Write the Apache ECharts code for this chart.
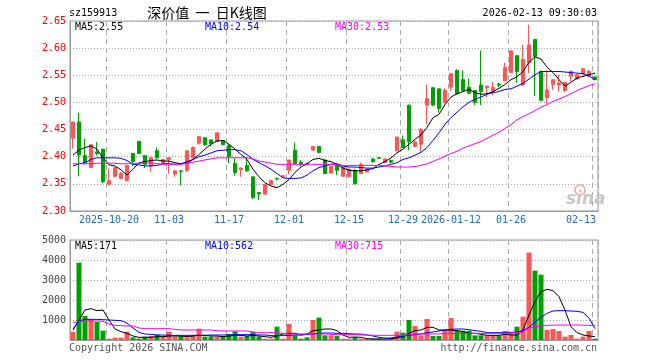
<!DOCTYPE html>
<html><head><meta charset="utf-8">
<script src="https://cdn.jsdelivr.net/npm/echarts@6/dist/echarts.min.js"></script>
<style>html,body{margin:0;padding:0;background:#fff}#c{width:660px;height:360px}</style>
</head><body><div id="c"></div>
<script>
const dates = [
'2025-10-10','2025-10-13','2025-10-14','2025-10-15','2025-10-16','2025-10-17',
'2025-10-20','2025-10-21','2025-10-22','2025-10-23','2025-10-24',
'2025-10-27','2025-10-28','2025-10-29','2025-10-30','2025-10-31',
'2025-11-03','2025-11-04','2025-11-05','2025-11-06','2025-11-07',
'2025-11-10','2025-11-11','2025-11-12','2025-11-13','2025-11-14',
'2025-11-17','2025-11-18','2025-11-19','2025-11-20','2025-11-21',
'2025-11-24','2025-11-25','2025-11-26','2025-11-27','2025-11-28',
'2025-12-01','2025-12-02','2025-12-03','2025-12-04','2025-12-05',
'2025-12-08','2025-12-09','2025-12-10','2025-12-11','2025-12-12',
'2025-12-15','2025-12-16','2025-12-17','2025-12-18','2025-12-19',
'2025-12-22','2025-12-23','2025-12-24','2025-12-25',
'2025-12-29','2025-12-30','2025-12-31',
'2026-01-05','2026-01-06','2026-01-07','2026-01-08','2026-01-09',
'2026-01-12','2026-01-13','2026-01-14','2026-01-15','2026-01-16',
'2026-01-19','2026-01-20','2026-01-21','2026-01-22','2026-01-23',
'2026-01-26','2026-01-27','2026-01-28','2026-01-29','2026-01-30',
'2026-02-02','2026-02-03','2026-02-04','2026-02-05','2026-02-06',
'2026-02-09','2026-02-10','2026-02-11','2026-02-12','2026-02-13'];

const openP = [2.434,2.464,2.402,2.380,2.409,2.414,2.349,2.364,2.360,2.356, 2.406,2.428,2.402,2.383,2.411,2.388,2.395,2.368,2.374,2.375, 2.398,2.425,2.435,2.431,2.428,2.430,2.421,2.388,2.376,2.384, 2.363,2.334,2.331,2.349,2.360,2.363,2.375,2.412,2.390,2.387, 2.412,2.419,2.394,2.370,2.385,2.364,2.363,2.375,2.369,2.372, 2.396,2.398,2.389,2.393,2.411,2.431,2.495,2.419,2.423,2.495, 2.527,2.525,2.500,2.528,2.559,2.542,2.528,2.522,2.532,2.527, 2.521,2.534,2.540,2.555,2.586,2.533,2.573,2.616,2.557,2.509, 2.533,2.532,2.522,2.548,2.543,2.553,2.548,2.547];
const closeP = [2.464,2.403,2.388,2.422,2.406,2.354,2.356,2.380,2.369,2.384, 2.391,2.406,2.386,2.398,2.398,2.395,2.398,2.374,2.373,2.411, 2.417,2.437,2.422,2.424,2.444,2.422,2.400,2.371,2.379,2.374, 2.325,2.332,2.349,2.356,2.359,2.365,2.394,2.387,2.386,2.386, 2.419,2.408,2.369,2.382,2.375,2.381,2.377,2.350,2.386,2.376, 2.391,2.397,2.396,2.390,2.436,2.417,2.428,2.427,2.450,2.507, 2.495,2.489,2.522,2.553,2.516,2.522,2.517,2.500,2.520,2.530, 2.528,2.532,2.564,2.595,2.557,2.579,2.606,2.585,2.504,2.523, 2.542,2.536,2.537,2.557,2.551,2.562,2.557,2.542];
const lowP = [2.415,2.364,2.386,2.379,2.402,2.351,2.347,2.363,2.358,2.354, 2.383,2.405,2.379,2.372,2.396,2.387,2.369,2.363,2.347,2.372, 2.397,2.422,2.420,2.419,2.428,2.421,2.388,2.365,2.363,2.372, 2.322,2.320,2.330,2.348,2.356,2.362,2.368,2.386,2.383,2.384, 2.411,2.406,2.368,2.369,2.366,2.363,2.362,2.349,2.368,2.371, 2.389,2.396,2.388,2.388,2.409,2.416,2.412,2.417,2.409,2.460, 2.493,2.481,2.498,2.521,2.514,2.520,2.516,2.495,2.495,2.509, 2.514,2.528,2.539,2.554,2.536,2.530,2.554,2.512,2.502,2.496, 2.523,2.520,2.519,2.539,2.542,2.551,2.546,2.541];
const highP = [2.465,2.481,2.433,2.422,2.427,2.414,2.378,2.380,2.372,2.384, 2.406,2.428,2.402,2.400,2.417,2.396,2.399,2.374,2.374,2.411, 2.419,2.437,2.435,2.431,2.445,2.430,2.423,2.397,2.380,2.398, 2.363,2.334,2.349,2.357,2.362,2.366,2.394,2.426,2.394,2.389, 2.419,2.419,2.396,2.383,2.386,2.383,2.379,2.377,2.389,2.377, 2.397,2.399,2.397,2.395,2.437,2.439,2.496,2.430,2.453,2.533, 2.528,2.525,2.526,2.554,2.561,2.559,2.544,2.523,2.596,2.531, 2.538,2.536,2.573,2.596,2.587,2.606,2.643,2.617,2.559,2.559, 2.543,2.551,2.538,2.559,2.553,2.563,2.560,2.548];

const volume = [417,3867,1200,1033,900,467,67,117,117,417, 133,67,167,200,267,200,417,167,200,133, 233,567,167,167,167,200,300,433,167,200, 400,167,67,67,667,67,800,233,67,133, 1000,1117,233,233,200,67,67,133,67,67, 67,67,67,67,417,367,1000,700,233,1050, 200,200,500,1100,467,467,467,233,233,233, 233,233,450,350,667,1167,4367,3467,3267,500, 550,450,167,250,67,167,450,67];

const ma5P = [2.403,2.412,2.417,2.420,2.414,2.398,2.385,2.383,2.376,2.366, 2.377,2.389,2.391,2.393,2.394,2.392,2.392,2.389,2.387,2.388, 2.395,2.404,2.414,2.423,2.429,2.430,2.423,2.414,2.404,2.395, 2.377,2.363,2.352,2.346,2.343,2.349,2.358,2.371,2.381,2.387, 2.395,2.397,2.393,2.391,2.386,2.379,2.375,2.374,2.374,2.376, 2.378,2.386,2.391,2.398,2.407,2.414,2.423,2.432,2.440,2.454, 2.472,2.478,2.496,2.510,2.516,2.520,2.524,2.518,2.515,2.516, 2.520,2.526,2.533,2.542,2.547,2.557,2.574,2.584,2.580,2.565, 2.555,2.542,2.530,2.537,2.545,2.548,2.551,2.554];
const ma10P = [2.383,2.387,2.389,2.395,2.398,2.398,2.398,2.398,2.397,2.393, 2.386,2.385,2.383,2.383,2.384,2.387,2.387,2.386,2.387,2.391, 2.395,2.400,2.403,2.407,2.411,2.412,2.413,2.413,2.411,2.404, 2.395,2.389,2.383,2.377,2.369,2.361,2.360,2.360,2.361,2.366, 2.374,2.380,2.383,2.386,2.387,2.383,2.381,2.381,2.380,2.379, 2.379,2.381,2.383,2.386,2.389,2.395,2.398,2.403,2.408,2.417, 2.430,2.444,2.460,2.472,2.482,2.492,2.500,2.506,2.510,2.515, 2.518,2.520,2.524,2.525,2.530,2.535,2.543,2.551,2.557,2.557, 2.557,2.557,2.556,2.555,2.554,2.553,2.549,2.542];
const ma30P = [2.387,2.387,2.387,2.387,2.388,2.388,2.388,2.388,2.387,2.387, 2.388,2.388,2.388,2.389,2.387,2.386,2.386,2.386,2.386,2.388, 2.390,2.392,2.394,2.396,2.398,2.398,2.398,2.398,2.398,2.398, 2.396,2.392,2.390,2.388,2.386,2.386,2.386,2.386,2.386,2.386, 2.386,2.386,2.386,2.386,2.385,2.384,2.384,2.384,2.384,2.384, 2.384,2.384,2.383,2.382,2.381,2.381,2.381,2.382,2.384,2.387, 2.3915,2.396,2.401,2.406,2.410,2.416,2.420,2.424,2.428,2.434, 2.440,2.445,2.452,2.459,2.468,2.474,2.479,2.485,2.4915,2.496, 2.502,2.506,2.511,2.516,2.522,2.5265,2.531,2.5345];

const ma5V = [500,1000,1500,1567,1467,1500,1000,550,417,333, 200,133,133,133,167,167,200,200,200,167, 200,233,233,200,200,167,200,233,233,200, 233,200,167,133,200,300,333,333,250,300, 467,500,550,550,467,250,133,150,133,67, 50,50,50,67,100,167,333,467,500,633, 633,500,500,500,467,417,333,333,283,233, 233,233,283,250,250,500,1250,1917,2417,2533, 2467,2167,1500,667,367,250,200,171];
const ma10V = [550,950,1033,1033,1033,1017,1000,983,967,850, 600,380,300,280,250,250,233,233,233,233, 233,233,233,250,250,250,250,267,267,267, 267,250,250,217,217,217,233,250,250,283, 300,333,350,350,333,333,317,300,300,250, 200,133,100,100,150,200,233,267,300,367, 400,450,500,533,550,550,517,467,433,367, 367,367,367,383,400,467,633,900,1133,1333, 1450,1467,1467,1450,1433,1383,1100,562];
const ma30V = [867,933,950,950,950,933,800,733,717,700, 700,600,567,567,567,567,567,533,500,500, 500,500,500,500,467,450,450,450,450,450, 400,367,367,367,367,333,300,300,300,300, 300,300,300,283,267,267,267,267,250,250, 233,233,233,233,233,233,267,300,300,300, 300,300,333,333,333,333,333,333,333,333, 333,333,333,350,367,400,600,667,700,733, 740,745,750,750,750,740,730,715];

const tickDates = ['2025-10-20','2025-11-03','2025-11-17','2025-12-01','2025-12-15','2025-12-29','2026-01-12','2026-01-26','2026-02-13'];
const tickLabels = ['2025-10-20','11-03','11-17','12-01','12-15','12-29','2026-01-12','01-26','02-13'];
const priceMin = 2.30, priceMax = 2.65, priceStep = 0.05;
const volMin = 0, volMax = 5000, volStep = 1000;

const RED = '#ff5555', GREEN = '#00a000';
const MONO = '"DejaVu Sans Mono", monospace';
const chart = echarts.init(document.getElementById('c'), null, {renderer: 'canvas'});
const kData = dates.map((d, i) => [openP[i], closeP[i], lowP[i], highP[i]]);
const isUp = i => closeP[i] >= openP[i];
const showTick = (idx, val) => tickDates.indexOf(val) >= 0;
const vSplit = {show: true, interval: showTick, lineStyle: {color: '#aaa', type: [5, 4], width: 1}};
const hSplit = {show: true, lineStyle: {color: '#aaa', type: [1, 2], width: 1}};
const lastIdx = dates.length - 1;

function txt(x, y, text, color, font, align) {
  return {type: 'text', x: x, y: y, silent: true, z: 100,
    style: {text: text, fill: color, font: font, align: align || 'left', verticalAlign: 'middle'}};
}

const option = {
  animation: false,
  backgroundColor: '#fff',
  grid: [
    {left: 70, top: 21, width: 528, height: 190, show: true, borderColor: '#999', borderWidth: 1},
    {left: 70, top: 240, width: 528, height: 100, show: true, borderColor: '#999', borderWidth: 1}
  ],
  xAxis: [
    {type: 'category', gridIndex: 0, data: dates, boundaryGap: true,
      axisLine: {lineStyle: {color: '#999'}}, axisTick: {show: false},
      axisLabel: {interval: showTick, margin: 4, color: '#1f6cb8', fontFamily: MONO, fontSize: 10,
        formatter: function (v) {
          const k = tickDates.indexOf(v);
          if (k < 0) return '';
          if (k === tickDates.length - 1) return '{r|' + tickLabels[k] + '}';
          return tickLabels[k];
        },
        rich: {r: {color: '#1f6cb8', fontFamily: MONO, fontSize: 10, padding: [0, 28, 0, 0]}}},
      splitLine: vSplit},
    {type: 'category', gridIndex: 1, data: dates, boundaryGap: true,
      axisLine: {lineStyle: {color: '#999'}}, axisTick: {show: false}, axisLabel: {show: false},
      splitLine: vSplit}
  ],
  yAxis: [
    {type: 'value', gridIndex: 0, min: priceMin, max: priceMax, interval: priceStep, scale: true,
      axisLine: {show: true, lineStyle: {color: '#999'}}, axisTick: {show: false},
      axisLabel: {color: '#f00', fontFamily: MONO, fontSize: 10, margin: 4, formatter: v => v.toFixed(2)},
      splitLine: hSplit},
    {type: 'value', gridIndex: 1, min: volMin, max: volMax, interval: volStep,
      axisLine: {show: true, lineStyle: {color: '#999'}}, axisTick: {show: false},
      axisLabel: {color: '#444', fontFamily: MONO, fontSize: 10, margin: 4, formatter: v => v === 0 ? '' : String(v)},
      splitLine: hSplit}
  ],
  series: [
    {type: 'candlestick', xAxisIndex: 0, yAxisIndex: 0, data: kData, barWidth: 4,
      itemStyle: {color: RED, color0: GREEN, borderColor: RED, borderColor0: GREEN, borderWidth: 1}},
    {type: 'line', xAxisIndex: 0, yAxisIndex: 0, data: ma5P, symbol: 'none', lineStyle: {color: '#000', width: 1}, silent: true},
    {type: 'line', xAxisIndex: 0, yAxisIndex: 0, data: ma10P, symbol: 'none', lineStyle: {color: '#0000ff', width: 1}, silent: true},
    {type: 'line', xAxisIndex: 0, yAxisIndex: 0, data: ma30P, symbol: 'none', lineStyle: {color: '#ff00ff', width: 1}, silent: true},
    {type: 'bar', xAxisIndex: 1, yAxisIndex: 1, barWidth: 5,
      data: volume.map((v, i) => ({value: v, itemStyle: {color: isUp(i) ? RED : GREEN}}))},
    {type: 'line', xAxisIndex: 1, yAxisIndex: 1, data: ma5V, symbol: 'none', lineStyle: {color: '#000', width: 1}, silent: true},
    {type: 'line', xAxisIndex: 1, yAxisIndex: 1, data: ma10V, symbol: 'none', lineStyle: {color: '#0000ff', width: 1}, silent: true},
    {type: 'line', xAxisIndex: 1, yAxisIndex: 1, data: ma30V, symbol: 'none', lineStyle: {color: '#ff00ff', width: 1}, silent: true}
  ],
  graphic: [
    txt(69, 13, 'sz159913', '#000', '10px ' + MONO),
    txt(207, 13, '深价值  一  日K线图', '#000', '14px "Noto Sans CJK SC"', 'center'),
    txt(597, 13, '2026-02-13 09:30:03', '#000', '10px ' + MONO, 'right'),
    txt(75, 27, 'MA5:' + ma5P[lastIdx].toFixed(2), '#000', '10px ' + MONO),
    txt(205, 27, 'MA10:' + ma10P[lastIdx].toFixed(2), '#0000ff', '10px ' + MONO),
    txt(335, 27, 'MA30:' + ma30P[lastIdx].toFixed(2), '#ff00ff', '10px ' + MONO),
    txt(75, 246, 'MA5:' + ma5V[lastIdx], '#000', '10px ' + MONO),
    txt(205, 246, 'MA10:' + ma10V[lastIdx], '#0000ff', '10px ' + MONO),
    txt(335, 246, 'MA30:' + ma30V[lastIdx], '#ff00ff', '10px ' + MONO),
    txt(69, 348, 'Copyright 2026 SINA.COM', '#555', '10px ' + MONO),
    txt(597, 348, 'http://finance.sina.com.cn', '#555', '10px ' + MONO, 'right'),
    {type: 'circle', silent: true, z: 1, shape: {cx: 580, cy: 190, r: 5},
      style: {fill: 'none', stroke: '#f3b0b0', lineWidth: 2}},
    txt(566, 200, 'sina', '#c8c8c8', 'italic bold 17px "DejaVu Sans"')
  ]
};
chart.setOption(option);
</script></body></html>
